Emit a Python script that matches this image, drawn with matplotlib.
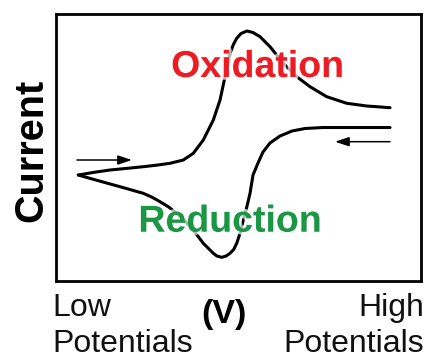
import matplotlib
matplotlib.use("Agg")
import matplotlib.pyplot as plt
import matplotlib.patheffects as pe

plt.rcParams['font.family'] = ['Liberation Sans', 'DejaVu Sans']

# Forward (oxidation) sweep: potential (arb. units), current (arb. units)
fwd_x = [5.98, 10.2, 14.68, 19.3, 23.81, 27.5, 31.14, 34.79, 37.53, 40.27, 43.02, 44.86,
         46.23, 47.60, 48.6, 49.44, 50.62, 52.26, 53.91, 55.83, 58.57, 62.22, 65.90,
         69.55, 74.13, 79.62, 85.10, 91.50]
fwd_y = [39.51, 40.5, 41.39, 42.0, 42.62, 43.2, 43.90, 45.13, 47.64, 52.62, 60.11, 67.60,
         76.33, 85.09, 88.6, 90.71, 92.51, 93.45, 92.88, 91.31, 87.57, 81.35, 76.33,
         72.58, 68.84, 66.37, 65.36, 64.72]

# Reverse (reduction) sweep
rev_x = [91.50, 82.0, 73.11, 68.18, 64.61, 61.32, 58.57, 56.65, 55.28, 53.91, 53.09,
         52.2, 51.25, 50.4, 49.44, 48.6, 47.60, 46.5, 45.32, 44.03, 43.02, 41.7, 40.27,
         37.53, 35.3, 32.98, 30.7, 28.40, 26.2, 23.81, 20.6, 17.42, 13.8, 10.10, 5.98]
rev_y = [57.30, 57.30, 57.30, 56.93, 55.99, 54.12, 51.50, 48.13, 44.01, 39.51, 32.66,
         27.5, 22.66, 17.9, 13.93, 11.6, 10.19, 9.15, 8.69, 9.15, 10.19, 12.0, 13.93,
         18.91, 22.2, 25.17, 27.6, 29.51, 31.2, 32.66, 33.9, 35.13, 36.5, 37.90, 39.51]

# Sweep-direction arrows (start, end)
arrow_fwd = [(5.6, 45.13), (20.7, 45.13)]
arrow_rev = [(91.5, 51.99), (76.4, 51.99)]

fig = plt.figure(figsize=(4.29, 3.6), dpi=100)
ax = fig.add_axes([0.1317, 0.2208, 0.8497, 0.7417])
ax.set_xlim(0, 100)
ax.set_ylim(0, 100)
ax.set_xticks([])
ax.set_yticks([])
for s in ax.spines.values():
    s.set_linewidth(2.0)
    s.set_color('black')

ax.plot(fwd_x, fwd_y, color='black', lw=2.2, solid_capstyle='round', solid_joinstyle='round')
ax.plot(rev_x, rev_y, color='black', lw=2.2, solid_capstyle='round', solid_joinstyle='round')

for (x0, y0), (x1, y1) in [arrow_fwd, arrow_rev]:
    ax.annotate('', xy=(x1, y1), xytext=(x0, y0),
                arrowprops=dict(arrowstyle='-|>,head_length=0.6,head_width=0.2',
                                color='black', lw=1.1, mutation_scale=14,
                                shrinkA=0, shrinkB=0))

halo = [pe.withStroke(linewidth=4, foreground='white', alpha=0.7)]
ax.text(55.14, 76.22, 'Oxidation', color='#ed1c24', fontsize=27, fontweight='bold',
        ha='center', va='baseline', path_effects=halo)
ax.text(47.6, 18.28, 'Reduction', color='#1b9645', fontsize=27, fontweight='bold',
        ha='center', va='baseline', path_effects=halo)

fig.text(0.0991, 0.5833, 'Current', rotation=90, rotation_mode='anchor', fontsize=28.5,
         fontweight='bold', ha='center', va='baseline')

fig.text(0.1224, 0.1222, 'Low', fontsize=23, ha='left', va='baseline', color='#111111')
fig.text(0.1224, 0.0236, 'Potentials', fontsize=23, ha='left', va='baseline', color='#111111')
fig.text(0.9895, 0.1222, 'High', fontsize=23, ha='right', va='baseline', color='#111111')
fig.text(0.9895, 0.0236, 'Potentials', fontsize=23, ha='right', va='baseline', color='#111111')
fig.text(0.5221, 0.1028, '(V)', fontsize=24.5, fontweight='bold', ha='center', va='baseline')

fig.savefig('out.png', dpi=100)
